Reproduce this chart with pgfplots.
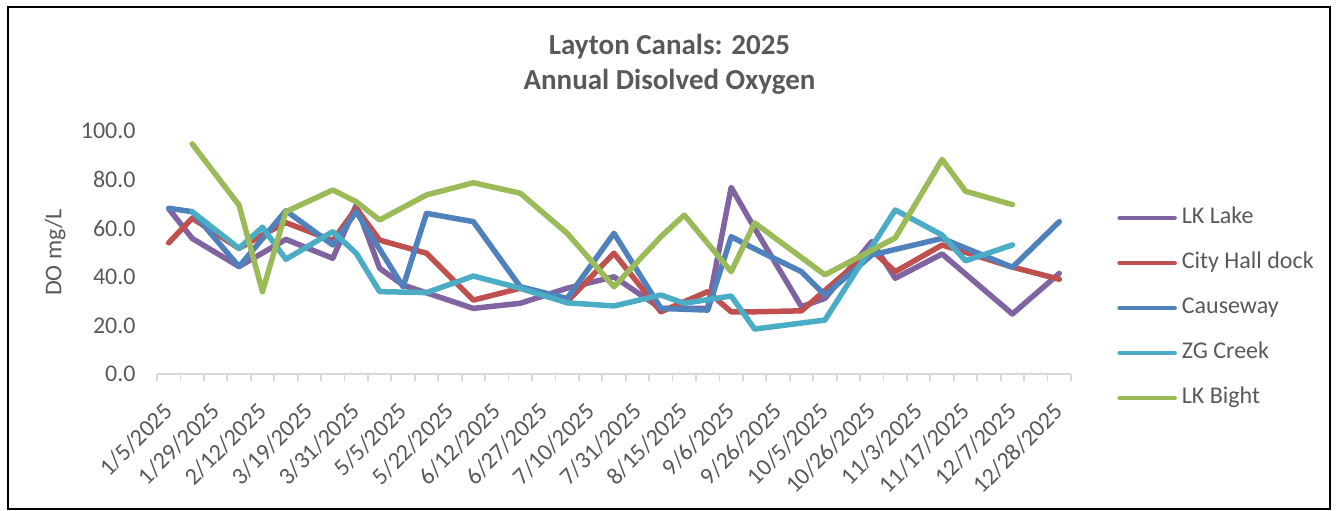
\documentclass[border=0pt]{standalone}
\usepackage{fontspec}
\setmainfont{Carlito}
\usepackage{pgfplots}
\pgfplotsset{compat=1.18}
\definecolor{txt}{HTML}{595959}
\definecolor{axgray}{HTML}{D9D9D9}
\definecolor{cLake}{HTML}{8064A2}
\definecolor{cCity}{HTML}{C0504D}
\definecolor{cCause}{HTML}{4F81BD}
\definecolor{cZG}{HTML}{4BACC6}
\definecolor{cBight}{HTML}{9BBB59}
\pgfplotsset{every axis plot post/.append style={legend image code/.code={\draw[##1, line width=2.25pt, line cap=round] (0pt,0pt) -- (27.5pt,0pt);}}}
\begin{document}
\begin{tikzpicture}
\useasboundingbox (0,0) rectangle (669.5pt,255pt);
\draw[black, line width=0.75pt] (4pt,0.6pt) rectangle (665pt,251.5pt);
\node[font=\bfseries\fontsize{14.5}{17.5}\selectfont, text=txt, align=center] at (334.75pt,222.75pt) {Layton Canals: 2025\\Annual Disolved Oxygen};
\begin{axis}[
  at={(78.5pt,68pt)}, anchor=south west,
  scale only axis, width=457pt, height=121.5pt,
  xmin=-0.5, xmax=38.5, ymin=0, ymax=100,
  axis x line*=bottom, axis y line*=left,
  x axis line style={draw=axgray, line width=0.9pt},
  y axis line style={draw=none},
  ytick={0,20,...,100},
  ytick style={draw=none},
  xtick={0,2,...,38},
  xticklabels={1/5/2025,1/29/2025,2/12/2025,3/19/2025,3/31/2025,5/5/2025,5/22/2025,6/12/2025,6/27/2025,7/10/2025,7/31/2025,8/15/2025,9/6/2025,9/26/2025,10/5/2025,10/26/2025,11/3/2025,11/17/2025,12/7/2025,12/28/2025},
  major tick length=0pt,
  minor xtick={-0.5,0.5,...,38.5},
  minor tick length=3.5pt,
  tick align=outside,
  minor x tick style={draw=axgray, line width=0.9pt},
  major x tick style={draw=none},
  /pgf/number format/.cd, fixed, fixed zerofill, precision=1, assume math mode=true,
  /pgfplots/.cd,
  yticklabel style={font=\fontsize{12}{14}\selectfont, text=txt, anchor=east, inner sep=0pt, xshift=-10.5pt},
  xticklabel style={font=\fontsize{12}{14}\selectfont, text=txt, yshift=-16.5pt, rotate=45, anchor=east, inner sep=0pt},
  ylabel={DO mg/L},
  ylabel style={font=\fontsize{12}{14}\selectfont, text=txt, at={(axis description cs:-0.1116,0.5)}, anchor=center, rotate=0},
  legend style={draw=none, fill=none, at={(axis description cs:1.0503,0.272)}, anchor=west,
    font=\fontsize{12}{14}\selectfont, text=txt, row sep=11.5pt, inner sep=0pt,
    nodes={inner sep=0pt, text height=8.5pt, text depth=2.5pt},
    /tikz/every odd column/.style={column sep=2.5pt}},
  legend cell align=left,
  every axis plot/.append style={line width=2.75pt, line join=round, line cap=round, mark=none},
]
\addplot[color=cLake] coordinates {
(0,68) (1,55.8) (3,44.2) (5,55.4) (7,47.6) (8,69.5) (9,43.5) (10,36.6) (13,27) (15,29.1) (17,35.3) (19,40) (21,27) (23,27) (24,76.8) (25,60) (27,27.7) (28,31.1) (30,54.5) (31,39.4) (33,49.4) (36,24.7) (38,41.4)};
\addlegendentry{LK Lake}
\addplot[color=cCity] coordinates {
(0,54) (1,64.1) (3,51.7) (4,57.2) (5,62.3) (7,54.9) (8,68.2) (9,55.1) (11,49.7) (13,30.4) (15,35.3) (17,29.8) (19,49.7) (21,25.6) (23,33.9) (24,25.6) (25,25.6) (27,26) (30,51) (31,42.1) (33,53.1) (36,44) (38,39)};
\addlegendentry{City Hall dock}
\addplot[color=cCause] coordinates {
(0,68.2) (1,66.8) (3,44.2) (5,67.2) (7,53.1) (8,66.8) (10,35.9) (11,66.1) (13,62.7) (15,35.9) (17,31.1) (19,57.9) (21,27) (23,26.3) (24,56.5) (25,51.5) (27,42.1) (28,32.5) (30,49) (33,55.8) (36,43.9) (38,62.7)};
\addlegendentry{Causeway}
\addplot[color=cZG] coordinates {
(1,66.8) (3,51.7) (4,60.4) (5,47.2) (7,58.6) (8,49.7) (9,33.9) (11,33.5) (13,40.3) (15,35.3) (17,29.3) (19,28) (21,32.5) (22,29.1) (24,32.1) (25,18.5) (28,22.2) (31,67.5) (33,57.2) (34,46.6) (36,53.1)};
\addlegendentry{ZG Creek}
\addplot[color=cBight] coordinates {
(1,94.7) (3,69.5) (4,33.9) (5,66.8) (7,75.7) (8,70.9) (9,63.4) (11,73.7) (13,78.7) (15,74.4) (17,57.9) (19,35.9) (21,56.5) (22,65.4) (24,42.1) (25,62.2) (28,40.8) (31,56) (33,88.3) (34,75.2) (36,69.7)};
\addlegendentry{LK Bight}
\end{axis}
\end{tikzpicture}
\end{document}
